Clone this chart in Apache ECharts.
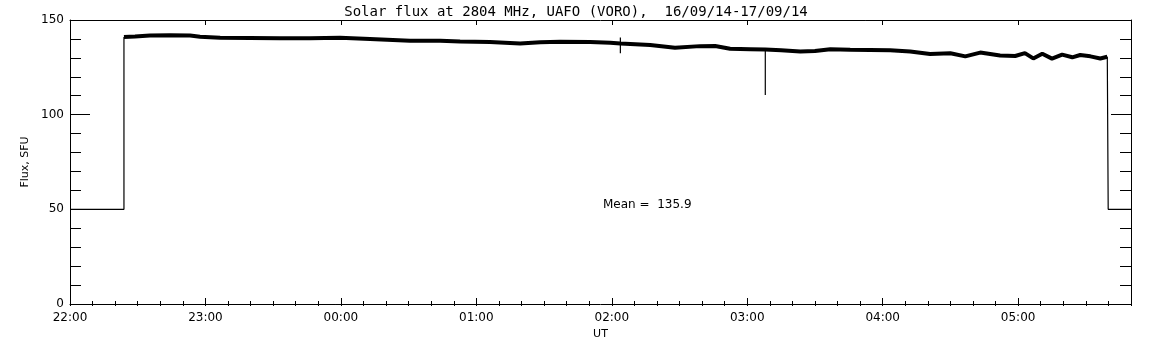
<!DOCTYPE html>
<html>
<head>
<meta charset="utf-8">
<script src="https://cdn.jsdelivr.net/npm/echarts@6/dist/echarts.min.js"></script>
<style>
  html, body { margin: 0; padding: 0; background: #fff; }
  #main { width: 1152px; height: 345px; }
</style>
</head>
<body>
<div id="main"></div>
<script>
// minutes after 22:00 UT
const hourLabels = ['22:00', '23:00', '00:00', '01:00', '02:00', '03:00', '04:00', '05:00'];

// flux record (minutes, SFU)
const fluxTimes = [23.9, 28.8, 35.4, 44.3, 53.2, 57.6, 66.5, 79.8, 93, 106.3, 119.6, 132.9,
  150.6, 164, 172.8, 186, 199.4, 208.3, 217.1, 230.4, 239.3, 243.8, 257, 268,
  279, 285.8, 292.4, 301.3, 308, 315, 323.5, 330, 336.8, 345.6, 354.5, 363.3, 372.2, 381,
  390, 396.6, 403.2, 412, 418.7, 423, 426.7, 430.7, 435, 439.5, 444, 447.5, 452, 456.4, 459.5];
const fluxValues = [141.0, 141.3, 141.8, 142.0, 141.8, 141.2, 140.6, 140.5, 140.3, 140.4, 140.6, 140.0,
  139.0, 139.0, 138.6, 138.4, 137.6, 138.3, 138.5, 138.4, 138.0, 137.6, 136.8, 135.4,
  136.2, 136.3, 134.8, 134.6, 134.4, 134.0, 133.3, 133.6, 134.6, 134.3, 134.2, 134.0, 133.4, 132.0,
  132.4, 130.8, 132.8, 131.2, 131.0, 132.5, 129.7, 132.2, 129.6, 131.7, 130.3, 131.5, 130.8, 129.7, 130.6];

// baseline before/after the observation
const edgeTimes = [0, 23.9, 23.9, null, 459.5, 459.9, 459.9, 470];
const edgeValues = [50, 50, 141.0, null, 130.6, 130.6, 50, 50];
// short glitches
const spikeTimes = [243.8, 243.8, null, 308, 308];
const spikeValues = [140.8, 132.4, null, 134.4, 110.4];

const meanFlux = 135.9;

const myChart = echarts.init(document.getElementById('main'));
const FONT = 'DejaVu Sans';
const ink = '#000';

const xBase = {
  type: 'value', min: 0, max: 470, gridIndex: 0,
  splitLine: { show: false },
  axisLine: { show: true, onZero: false, lineStyle: { color: ink, width: 1 } }
};
const yBase = {
  type: 'value', min: 0, max: 150, interval: 50,
  splitLine: { show: false },
  axisLine: { show: true, onZero: false, lineStyle: { color: ink, width: 1 } },
  axisTick: { show: true, inside: true, length: 20, lineStyle: { color: ink } },
  minorTick: { show: true, splitNumber: 5, length: 11, lineStyle: { color: ink } }
};

const pair = (ts, vs) => ts.map((t, i) => (t === null ? null : [t, vs[i]]));

const option = {
  animation: false,
  backgroundColor: '#fff',
  title: {
    text: 'Solar flux at 2804 MHz, UAFO (VORO),  16/09/14-17/09/14',
    left: 'center', top: 0,
    textStyle: { fontFamily: 'DejaVu Sans Mono', fontSize: 14, fontWeight: 'normal', color: ink }
  },
  grid: { left: 70, right: 21, top: 20, bottom: 41 },
  xAxis: [
    Object.assign({}, xBase, {
      position: 'bottom', interval: 60,
      name: 'UT', nameLocation: 'middle', nameGap: 25,
      nameTextStyle: { fontFamily: FONT, fontSize: 11, color: ink },
      axisTick: { show: true, inside: true, length: 6, lineStyle: { color: ink } },
      axisLabel: {
        show: true, margin: 8, fontFamily: FONT, fontSize: 12, color: ink,
        showMaxLabel: false,
        formatter: v => (v % 60 === 0 ? hourLabels[v / 60] : '')
      }
    }),
    Object.assign({}, xBase, {
      position: 'bottom', interval: 10,
      axisLine: { show: false },
      axisTick: { show: true, inside: true, length: 3, lineStyle: { color: ink } },
      axisLabel: { show: false }
    }),
    Object.assign({}, xBase, {
      position: 'top', interval: 60,
      axisTick: { show: true, inside: true, length: 5, lineStyle: { color: ink } },
      axisLabel: { show: false }
    }),
    Object.assign({}, xBase, {
      position: 'top', interval: 10,
      axisLine: { show: false },
      axisTick: { show: true, inside: true, length: 2, lineStyle: { color: ink } },
      axisLabel: { show: false }
    })
  ],
  yAxis: [
    Object.assign({}, yBase, {
      position: 'left',
      name: 'Flux, SFU', nameLocation: 'middle', nameGap: 38,
      nameTextStyle: { fontFamily: FONT, fontSize: 11, color: ink },
      axisLabel: { show: true, margin: 6, fontFamily: FONT, fontSize: 12, color: ink }
    }),
    Object.assign({}, yBase, {
      position: 'right',
      axisLabel: { show: false }
    })
  ],
  graphic: [{
    type: 'text', left: 603, top: 199,
    style: { text: 'Mean =  ' + meanFlux.toFixed(1), font: '12px ' + FONT, fill: ink }
  }],
  series: [
    {
      type: 'line', xAxisIndex: 0, yAxisIndex: 0,
      data: pair(edgeTimes, edgeValues), connectNulls: false,
      showSymbol: false, silent: true,
      lineStyle: { color: ink, width: 1.2 }
    },
    {
      type: 'line', xAxisIndex: 0, yAxisIndex: 0,
      data: pair(spikeTimes, spikeValues), connectNulls: false,
      showSymbol: false, silent: true,
      lineStyle: { color: ink, width: 1.2 }
    },
    {
      type: 'line', xAxisIndex: 0, yAxisIndex: 0,
      data: pair(fluxTimes, fluxValues),
      showSymbol: false, silent: true,
      lineStyle: { color: ink, width: 4 }
    }
  ]
};

myChart.setOption(option);
</script>
</body>
</html>
